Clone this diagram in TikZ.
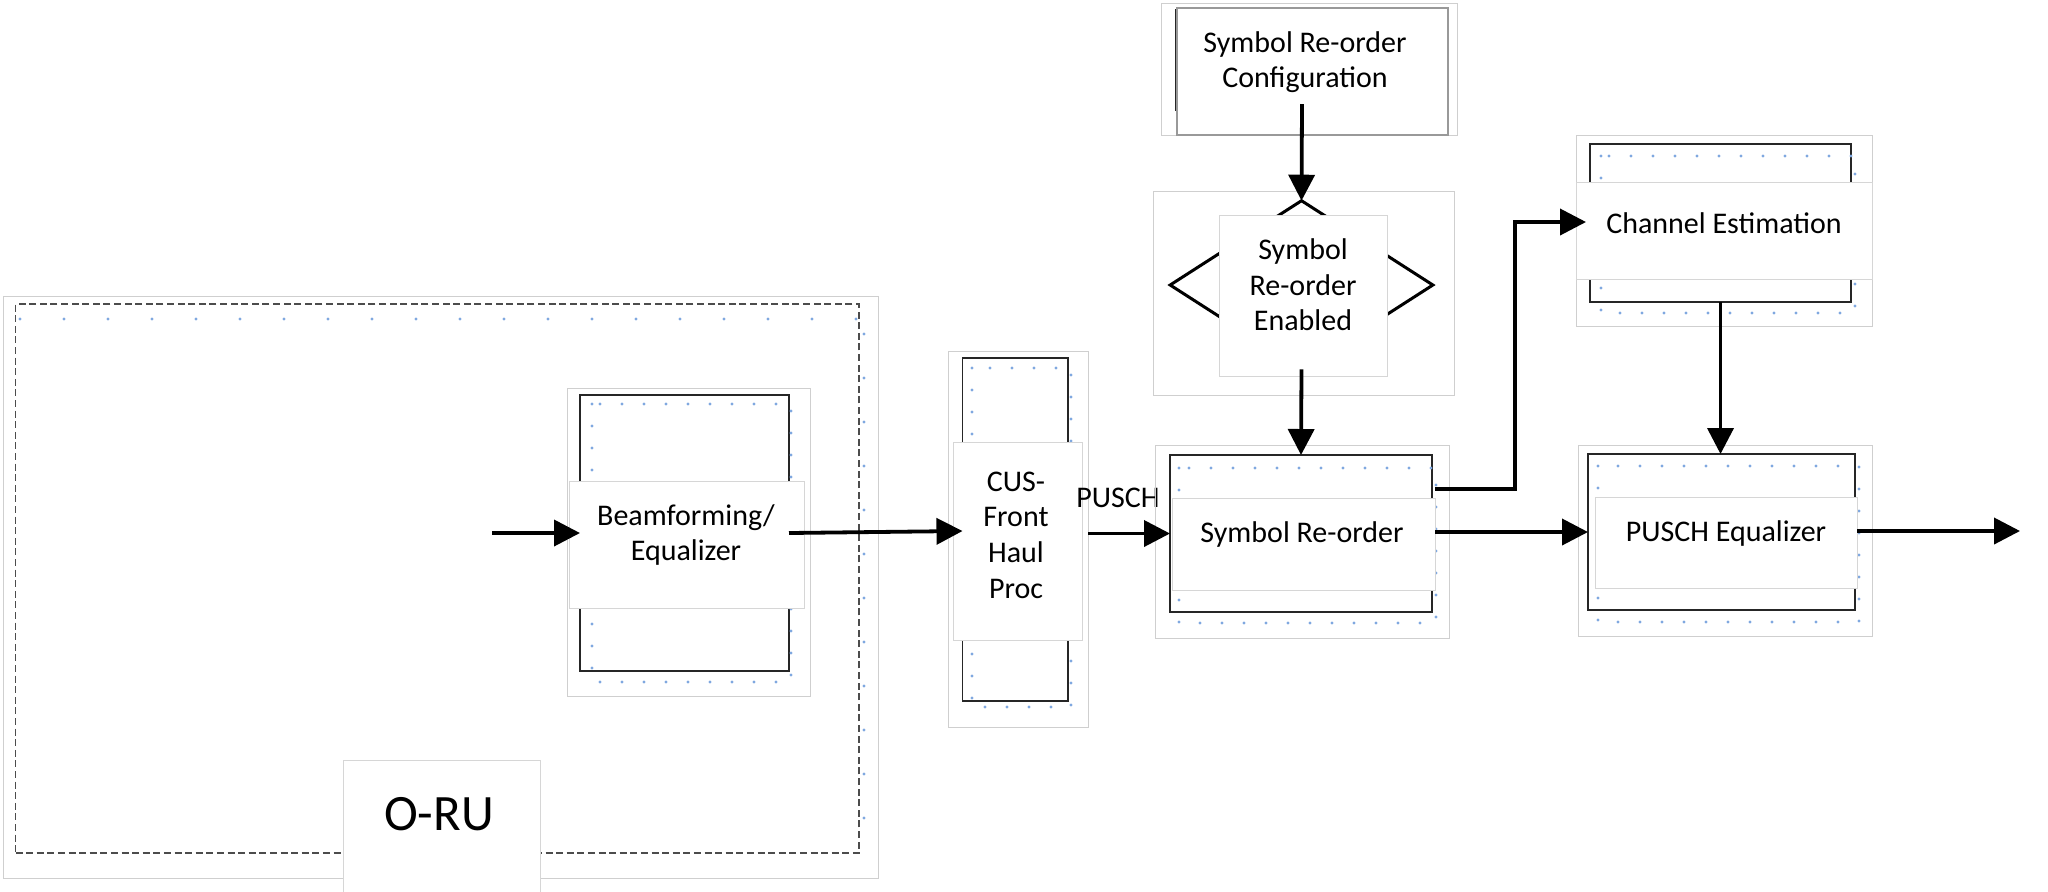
\documentclass[tikz,border=0pt]{standalone}
\usepackage{fontspec}
\setmainfont{Carlito}
\usetikzlibrary{arrows.meta,shapes.geometric}
\definecolor{dotblue}{HTML}{7FA8E0}
\newcommand\rbox[6]{\node[#6,minimum width={(#4-#2)*0.5pt},minimum height={(#5-#3)*0.5pt}] (#1) at ({(#2+#4)/2},{(#3+#5)/2}) {};}
\begin{document}
\begin{tikzpicture}[x=0.5pt,y=-0.5pt,
  frame/.style={draw=black!19, line width=0.5pt, inner sep=0, outer sep=0},
  blk/.style={draw=black!85, line width=0.8pt, inner sep=0, outer sep=0},
  wbox/.style={draw=black!16, fill=white, line width=0.5pt, inner sep=0, outer sep=0},
  lbl/.style={font=\fontsize{15}{17.8}\selectfont, align=center, inner sep=0},
  conn/.style={line width=1.9pt, -{Triangle[length=13pt,width=13pt]}},
  bdots/.style={draw=dotblue, line width=1.6pt, line cap=round, dash pattern=on 0pt off 11pt},
  wdots/.style={draw=dotblue, line width=1.6pt, line cap=round, dash pattern=on 0pt off 22pt},
]
\fill[white] (0,0) rectangle (2048,891);
\useasboundingbox (0,0) rectangle (2048,891);

% O-RU
\rbox{oruf}{3}{296}{878}{878}{frame}
\rbox{orud}{15.5}{304}{859}{853}{draw=black!70, dash pattern=on 3.5pt off 1.8pt, line width=0.6pt, inner sep=0, outer sep=0}
\draw[wdots] (20,319) -- (860,319);
\draw[wdots] (864,334) -- (864,853);

% Beamforming
\rbox{bff}{567}{388}{810}{696}{frame}
\rbox{bfb}{580}{395}{789}{671}{blk}
\draw[bdots] (592,404) rectangle (791,682);
\rbox{bfw}{569}{481}{804}{608}{wbox}
\node[lbl] (bft) at (686,535) {Beamforming/\\Equalizer};

% CUS
\rbox{cusf}{948}{351}{1088}{727}{frame}
\rbox{cusb}{962.5}{358}{1068}{701}{blk}
\draw[bdots] (972,368) rectangle (1071,707);
\rbox{cusw}{953}{442}{1082}{640}{wbox}
\node[lbl] (cust) at (1016,535) {CUS-\\Front\\Haul\\Proc};
\node[lbl] (pusch) at (1118,498) {PUSCH};

% Symbol Re-order
\rbox{srf}{1155}{445}{1449}{638}{frame}
\rbox{srb}{1170}{455}{1432}{612}{blk}
\draw[bdots] (1179,468) rectangle (1436,623);
\rbox{srw}{1172}{498}{1435}{590}{wbox}
\node[lbl] (srt) at (1302,534) {Symbol Re-order};

% Symbol Re-order Configuration
\rbox{cff}{1161}{3}{1457}{135}{frame}
\rbox{cfb}{1177}{8}{1448}{135}{draw=black!40, line width=0.6pt, inner sep=0, outer sep=0}
\draw[black!85, line width=0.8pt] (1175.5,9) -- (1175.5,111);
\node[lbl] (cft) at (1305,62) {Symbol Re-order\\Configuration};
\coordinate (cfs) at (1302,104);

% Decision
\rbox{dmf}{1153}{191}{1454}{395}{frame}
\node[draw, diamond, line width=1.5pt, inner sep=0, outer sep=0, minimum width=131.35pt, minimum height=84.3pt] (dm) at (1301.5,285) {};
\rbox{dmw}{1219}{215}{1387}{376}{wbox}
\node[lbl] (dmt) at (1303,285) {Symbol\\Re-order\\Enabled};

% Channel Estimation
\rbox{cef}{1576}{135}{1872}{326}{frame}
\rbox{ceb}{1590}{144}{1851}{302}{blk}
\draw[bdots] (1601,156) rectangle (1855,313);
\rbox{cew}{1576}{182}{1872}{279}{wbox}
\node[lbl] (cet) at (1724,223) {Channel Estimation};

% PUSCH Equalizer
\rbox{pef}{1578}{445}{1872}{636}{frame}
\rbox{peb}{1588}{454}{1855}{610}{blk}
\draw[bdots] (1598,466) rectangle (1859,622);
\rbox{pew}{1595}{497}{1857}{588}{wbox}
\node[lbl] (pet) at (1726,533) {PUSCH Equalizer};

% O-RU label (on top of frame)
\rbox{orul}{343}{760}{540}{895}{wbox}
\node[font=\fontsize{25.5}{30}\selectfont, inner sep=0] (orut) at (439,814) {O-RU};

% connectors
\coordinate (inA) at (492,533);
\draw[conn] (inA) -- (bfb.west);
\coordinate (cusIn) at (962.5,531);
\draw[conn] (bfb.east) -- (cusIn);
\draw[conn] (cusf.east |- srb.west) -- (srb.west);
\draw[conn] (cfs) -- (dm.north);
\draw[conn] (dm.south) -- (srb.north);
\coordinate (srA) at (1435,489);
\coordinate (ceA) at (1586,222);
\draw[conn] (srA) -- ++(80,0) |- (ceA);
\draw[conn] (ceb.south) -- (ceb.south |- peb.north);
\draw[conn] (srw.east |- peb.west) -- (peb.west);
\coordinate (outA) at (2020,531);
\draw[conn] (pew.east |- outA) -- (outA);
\end{tikzpicture}
\end{document}
